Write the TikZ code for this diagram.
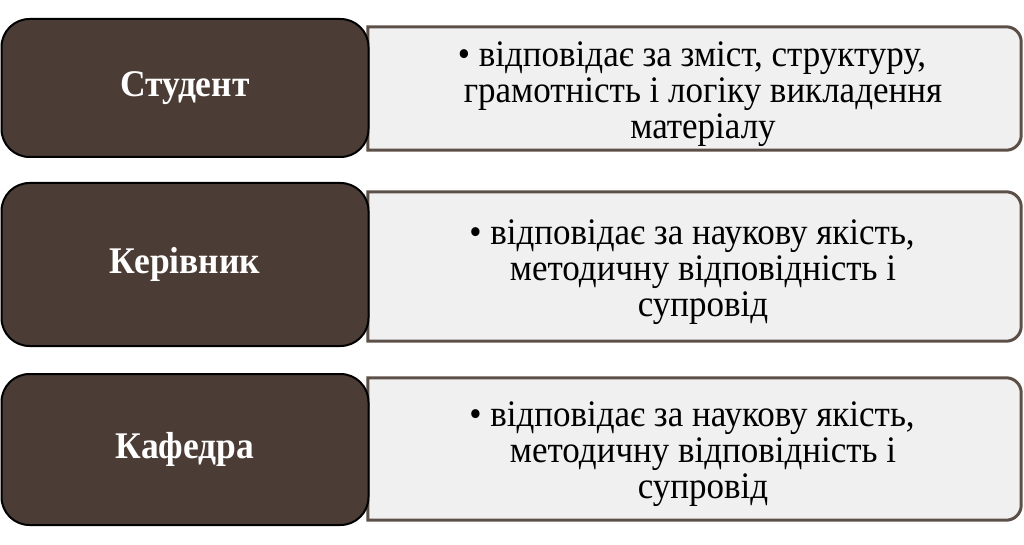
\documentclass[tikz,border=0pt]{standalone}
\usepackage{fontspec}
\setmainfont{Liberation Serif}
\usetikzlibrary{backgrounds}
\definecolor{darkbrown}{HTML}{4B3D35}
\definecolor{edgebrown}{HTML}{5C4F47}
\definecolor{lightfill}{HTML}{F0F0F0}
\newcommand{\infofont}{\fontsize{35}{33.6}\selectfont\lineskiplimit=-30pt\relax}
\tikzset{
  rolebox/.style={draw=black, line width=2pt, fill=darkbrown, rounded corners=28pt,
    minimum width=367pt, text=white, font=\bfseries\fontsize{35.5}{36}\selectfont, inner sep=0pt},
  infobox/.style={inner sep=0pt, align=center, text=black, yscale=1.07, transform shape,
    font=\infofont},
  infoframe/.style={minimum width=653pt, inner sep=0pt},
  infoshape/.style={draw=edgebrown, line width=3pt, fill=lightfill}
}
\newcommand{\infopath}[1]{%
  \draw[infoshape] (#1.south west) -- (#1.north west)
    -- ([xshift=-15pt]#1.north east) arc[start angle=90, end angle=0, radius=15pt]
    -- ([yshift=15pt]#1.south east) arc[start angle=0, end angle=-90, radius=15pt]
    -- cycle;}
\newcommand{\tallrole}[1]{\scalebox{1}[1.06]{#1}}
\begin{document}
\begin{tikzpicture}[x=1pt,y=1pt]
\useasboundingbox (0,0) rectangle (1024,544);
% info frames (for anchoring)
\node[infoframe, minimum height=123pt] (r1f) at (694.5,455.5) {};
\node[infoframe, minimum height=149pt] (r2f) at (694.5,277.5) {};
\node[infoframe, minimum height=142pt] (r3f) at (694.5,95) {};
\begin{scope}[on background layer]
\infopath{r1f}
\infopath{r2f}
\infopath{r3f}
\end{scope}
\node[infobox] (r1) at (692,450) {• відповідає за зміст, структуру,\\\hspace*{22pt}грамотність і логіку викладення\\\hspace*{22pt}матеріалу};
\node[infobox] (r2) at (692,272) {• відповідає за наукову якість,\\\hspace*{22pt}методичну відповідність і\\\hspace*{22pt}супровід};
\node[infobox] (r3) at (692,90) {• відповідає за наукову якість,\\\hspace*{22pt}методичну відповідність і\\\hspace*{22pt}супровід};
% role boxes
\node[rolebox, minimum height=138pt] (s) at (185,456) {\tallrole{Студент}};
\node[rolebox, minimum height=163pt] (k) at (185,279.5) {\tallrole{Керівник}};
\node[rolebox, minimum height=151pt] (d) at (185,94.5) {\tallrole{Кафедра}};
\end{tikzpicture}
\end{document}
